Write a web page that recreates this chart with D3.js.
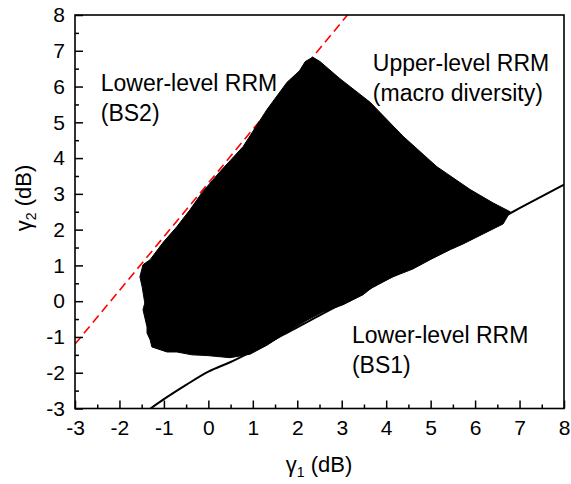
<!DOCTYPE html>
<html>
<head>
<meta charset="utf-8">
<script src="https://cdn.jsdelivr.net/npm/d3@7"></script>
<style>
  body { margin: 0; background: #fff; }
  svg { display: block; font-family: "Liberation Sans", Arial, sans-serif; }
</style>
</head>
<body>
<div id="chart"></div>
<script>
// ticks
const xTicks = [-3, -2, -1, 0, 1, 2, 3, 4, 5, 6, 7, 8];
const yTicks = [-3, -2, -1, 0, 1, 2, 3, 4, 5, 6, 7, 8];
const minorTicks = [-2.5, -1.5, -0.5, 0.5, 1.5, 2.5, 3.5, 4.5, 5.5, 6.5, 7.5];

// outline of the scatter region (gamma1, gamma2 in dB)
const regionG1 = [2.35, 2.51, 2.96, 3.64, 4.38, 5.14, 5.89, 6.40, 6.79, 6.63, 6.18, 5.73, 5.44, 4.99, 4.60, 4.15, 3.70, 3.48, 3.03, 2.58, 2.22, 1.84, 1.32, 0.94, 0.49, -0.03, -0.37, -0.71, -0.93, -1.27, -1.31, -1.38, -1.38, -1.47, -1.43, -1.49, -1.54, -1.47, -1.31, -1.02, -0.71, -0.41, -0.14, 0.26, 0.78, 1.32, 1.77, 2.05, 2.18];
const regionG2 = [6.82, 6.70, 6.22, 5.56, 4.61, 3.76, 3.12, 2.75, 2.50, 2.16, 1.88, 1.60, 1.44, 1.16, 0.90, 0.68, 0.40, 0.18, -0.10, -0.30, -0.53, -0.81, -1.23, -1.48, -1.58, -1.52, -1.50, -1.42, -1.42, -1.28, -1.08, -0.89, -0.72, -0.24, -0.05, 0.40, 0.68, 1.02, 1.16, 1.64, 2.08, 2.56, 3.04, 3.62, 4.32, 5.36, 6.12, 6.44, 6.70];

// BS2 boundary (red dashed)
const bs2G1 = [-3, 3.13];
const bs2G2 = [-1.2, 8];

// BS1 boundary (black solid)
const bs1G1 = [-1.3, -1.0, -0.5, 0, 0.5, 1.0, 2.0, 3.0, 4.0, 5.0, 6.0, 7.0, 8];
const bs1G2 = [-3, -2.74, -2.34, -1.97, -1.7, -1.39, -0.73, -0.07, 0.6, 1.26, 1.92, 2.6, 3.26];

const width = 571;
const height = 484;
const margin = { top: 15, right: 7, bottom: 75.5, left: 75 };

const svg = d3.select("#chart")
  .append("svg")
  .attr("width", width)
  .attr("height", height);

const x = d3.scaleLinear()
  .domain([-3, 8])
  .range([margin.left, width - margin.right]);

const y = d3.scaleLinear()
  .domain([-3, 8])
  .range([height - margin.bottom, margin.top]);

const zip = (a, b) => a.map((v, i) => [v, b[i]]);

svg.append("clipPath")
  .attr("id", "clip")
  .append("rect")
  .attr("x", x(-3))
  .attr("y", y(8))
  .attr("width", x(8) - x(-3))
  .attr("height", y(-3) - y(8));

const plot = svg.append("g").attr("clip-path", "url(#clip)");

const line = d3.line().x(d => x(d[0])).y(d => y(d[1]));

// red dashed line
plot.append("path")
  .datum(zip(bs2G1, bs2G2))
  .attr("d", line)
  .attr("fill", "none")
  .attr("stroke", "#ff0000")
  .attr("stroke-width", 1.6)
  .attr("stroke-dasharray", "9,5");

// black solid curve
plot.append("path")
  .datum(zip(bs1G1, bs1G2))
  .attr("d", d3.line().curve(d3.curveMonotoneX).x(d => x(d[0])).y(d => y(d[1])))
  .attr("fill", "none")
  .attr("stroke", "#000")
  .attr("stroke-width", 2);

// scatter region
plot.append("path")
  .datum(zip(regionG1, regionG2))
  .attr("d", d3.line().x(d => x(d[0])).y(d => y(d[1])).curve(d3.curveLinearClosed))
  .attr("fill", "#000")
  .attr("stroke", "#000")
  .attr("stroke-width", 1);

// axes
const fmt = d => String(d);

svg.append("g")
  .attr("transform", `translate(0,${y(-3)})`)
  .call(d3.axisBottom(x).tickValues(xTicks).tickSize(-8).tickSizeOuter(0).tickPadding(12).tickFormat(fmt));

svg.append("g")
  .attr("transform", `translate(0,${y(-3)})`)
  .call(d3.axisBottom(x).tickValues(minorTicks).tickSize(-4).tickSizeOuter(0).tickFormat(""));

svg.append("g")
  .attr("transform", `translate(${x(-3)},0)`)
  .call(d3.axisLeft(y).tickValues(yTicks).tickSize(-8).tickSizeOuter(0).tickPadding(10).tickFormat(fmt));

svg.append("g")
  .attr("transform", `translate(${x(-3)},0)`)
  .call(d3.axisLeft(y).tickValues(minorTicks).tickSize(-4).tickSizeOuter(0).tickFormat(""));

svg.selectAll(".domain").remove();
svg.selectAll(".tick line").attr("stroke", "#000").attr("stroke-width", 1.5);
svg.selectAll(".tick text")
  .style("font-size", "21px")
  .style("font-family", "Liberation Sans, Arial, sans-serif")
  .attr("fill", "#000");

// frame
svg.append("rect")
  .attr("x", x(-3))
  .attr("y", y(8))
  .attr("width", x(8) - x(-3))
  .attr("height", y(-3) - y(8))
  .attr("fill", "none")
  .attr("stroke", "#000")
  .attr("stroke-width", 1.6);

// region labels
const labels = [
  { g1: -2.42, g2: 5.87, lines: ["Lower-level RRM", "(BS2)"] },
  { g1: 3.70, g2: 6.43, lines: ["Upper-level RRM", "(macro diversity)"] },
  { g1: 3.23, g2: -1.17, lines: ["Lower-level RRM", "(BS1)"] }
];

labels.forEach(l => {
  const t = svg.append("text")
    .attr("x", x(l.g1))
    .attr("y", y(l.g2))
    .style("font-size", "23px")
    .attr("fill", "#000");
  l.lines.forEach((s, i) => {
    t.append("tspan")
      .attr("x", x(l.g1))
      .attr("dy", i === 0 ? 0 : 30)
      .text(s);
  });
});

// axis titles
const xt = svg.append("text")
  .attr("x", 319)
  .attr("y", 472)
  .attr("text-anchor", "middle")
  .style("font-size", "22px");
xt.append("tspan").text("γ");
xt.append("tspan").attr("dy", 5).style("font-size", "14px").text("1");
xt.append("tspan").attr("dy", -5).text(" (dB)");

const yt = svg.append("text")
  .attr("transform", `translate(31,198) rotate(-90)`)
  .attr("text-anchor", "middle")
  .style("font-size", "22px");
yt.append("tspan").text("γ");
yt.append("tspan").attr("dy", 5).style("font-size", "14px").text("2");
yt.append("tspan").attr("dy", -5).text(" (dB)");
</script>
</body>
</html>
